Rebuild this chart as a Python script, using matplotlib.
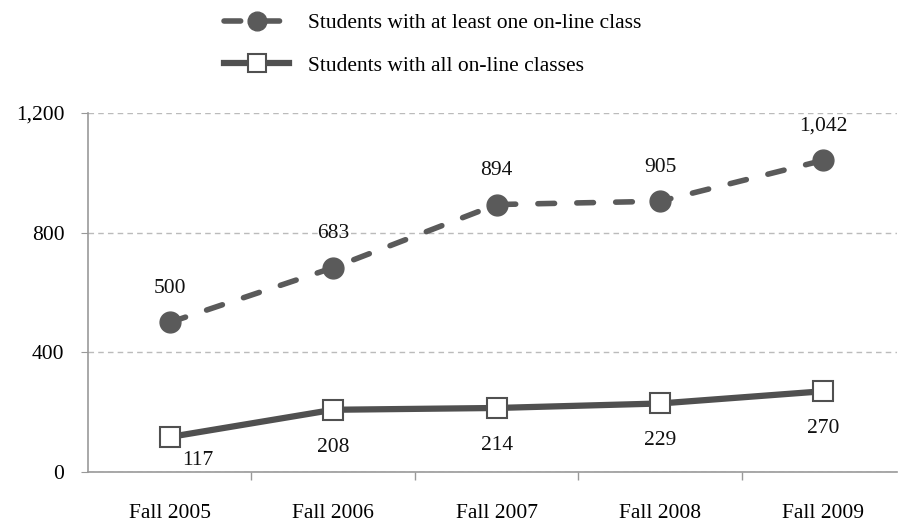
import matplotlib
matplotlib.use("Agg")
import matplotlib.pyplot as plt
from matplotlib.ticker import FuncFormatter, FixedLocator

categories = ["Fall 2005", "Fall 2006", "Fall 2007", "Fall 2008", "Fall 2009"]
at_least_one = [500, 683, 894, 905, 1042]
all_online = [117, 208, 214, 229, 270]
yticks = [0, 400, 800, 1200]

plt.rcParams['font.family'] = ['Liberation Serif', 'DejaVu Serif']
FS = 15.5

fig = plt.figure(figsize=(8.99, 5.25), dpi=100)
ax = fig.add_axes([88/899, 1-472/525, (897-88)/899, (472-113)/525])

x = list(range(len(categories)))
l1, = ax.plot(x, at_least_one, color='#5a5a5a', lw=4, ls=(0, (3, 4)),
              dash_capstyle='round',
              marker='o', ms=15, mfc='#5a5a5a', mec='#5a5a5a', zorder=3,
              label='Students with at least one on-line class')
l2, = ax.plot(x, all_online, color='#505050', lw=4.5, ls='-',
              marker='s', ms=14, mfc='white', mec='#505050', mew=1.5, zorder=3,
              label='Students with all on-line classes')

for xi, v in zip(x, at_least_one):
    ax.annotate(f"{v:,}", (xi, v), xytext=(0, 24.5), textcoords='offset points',
                ha='center', va='center', fontsize=FS, color='#111111')
for i, (xi, v) in enumerate(zip(x, all_online)):
    dx = 20 if i == 0 else 0
    dy = -17 if i == 0 else -27
    ax.annotate(f"{v:,}", (xi, v), xytext=(dx, dy), textcoords='offset points',
                ha='center', va='center', fontsize=FS, color='#111111')

ax.set_ylim(0, 1200)
ax.set_xlim(-0.5, 4.45)
ax.set_yticks(yticks)
ax.yaxis.set_major_formatter(FuncFormatter(lambda v, p: f"{int(v):,}"))
ax.grid(axis='y', color='#bbbbbb', ls=(0, (4, 3)), lw=1)
ax.set_axisbelow(True)

ax.set_xticks(x)
ax.set_xticklabels(categories)
ax.xaxis.set_minor_locator(FixedLocator([0.5, 1.5, 2.5, 3.5]))
ax.tick_params(axis='x', which='major', length=0, pad=23, labelsize=FS)
ax.tick_params(axis='x', which='minor', length=6, color='#999999', width=1)
ax.tick_params(axis='y', length=5, color='#999999', labelsize=FS, pad=12)

for s in ['top', 'right']:
    ax.spines[s].set_visible(False)
for s in ['left', 'bottom']:
    ax.spines[s].set_color('#999999')
    ax.spines[s].set_linewidth(1.2)

fig.legend(handles=[l1, l2], loc='upper left', bbox_to_anchor=(205/899, 1.012),
           frameon=False, fontsize=FS, handlelength=3.0, labelspacing=1.05,
           handletextpad=0.9, markerscale=0.9)

fig.savefig("out.png", dpi=100)
